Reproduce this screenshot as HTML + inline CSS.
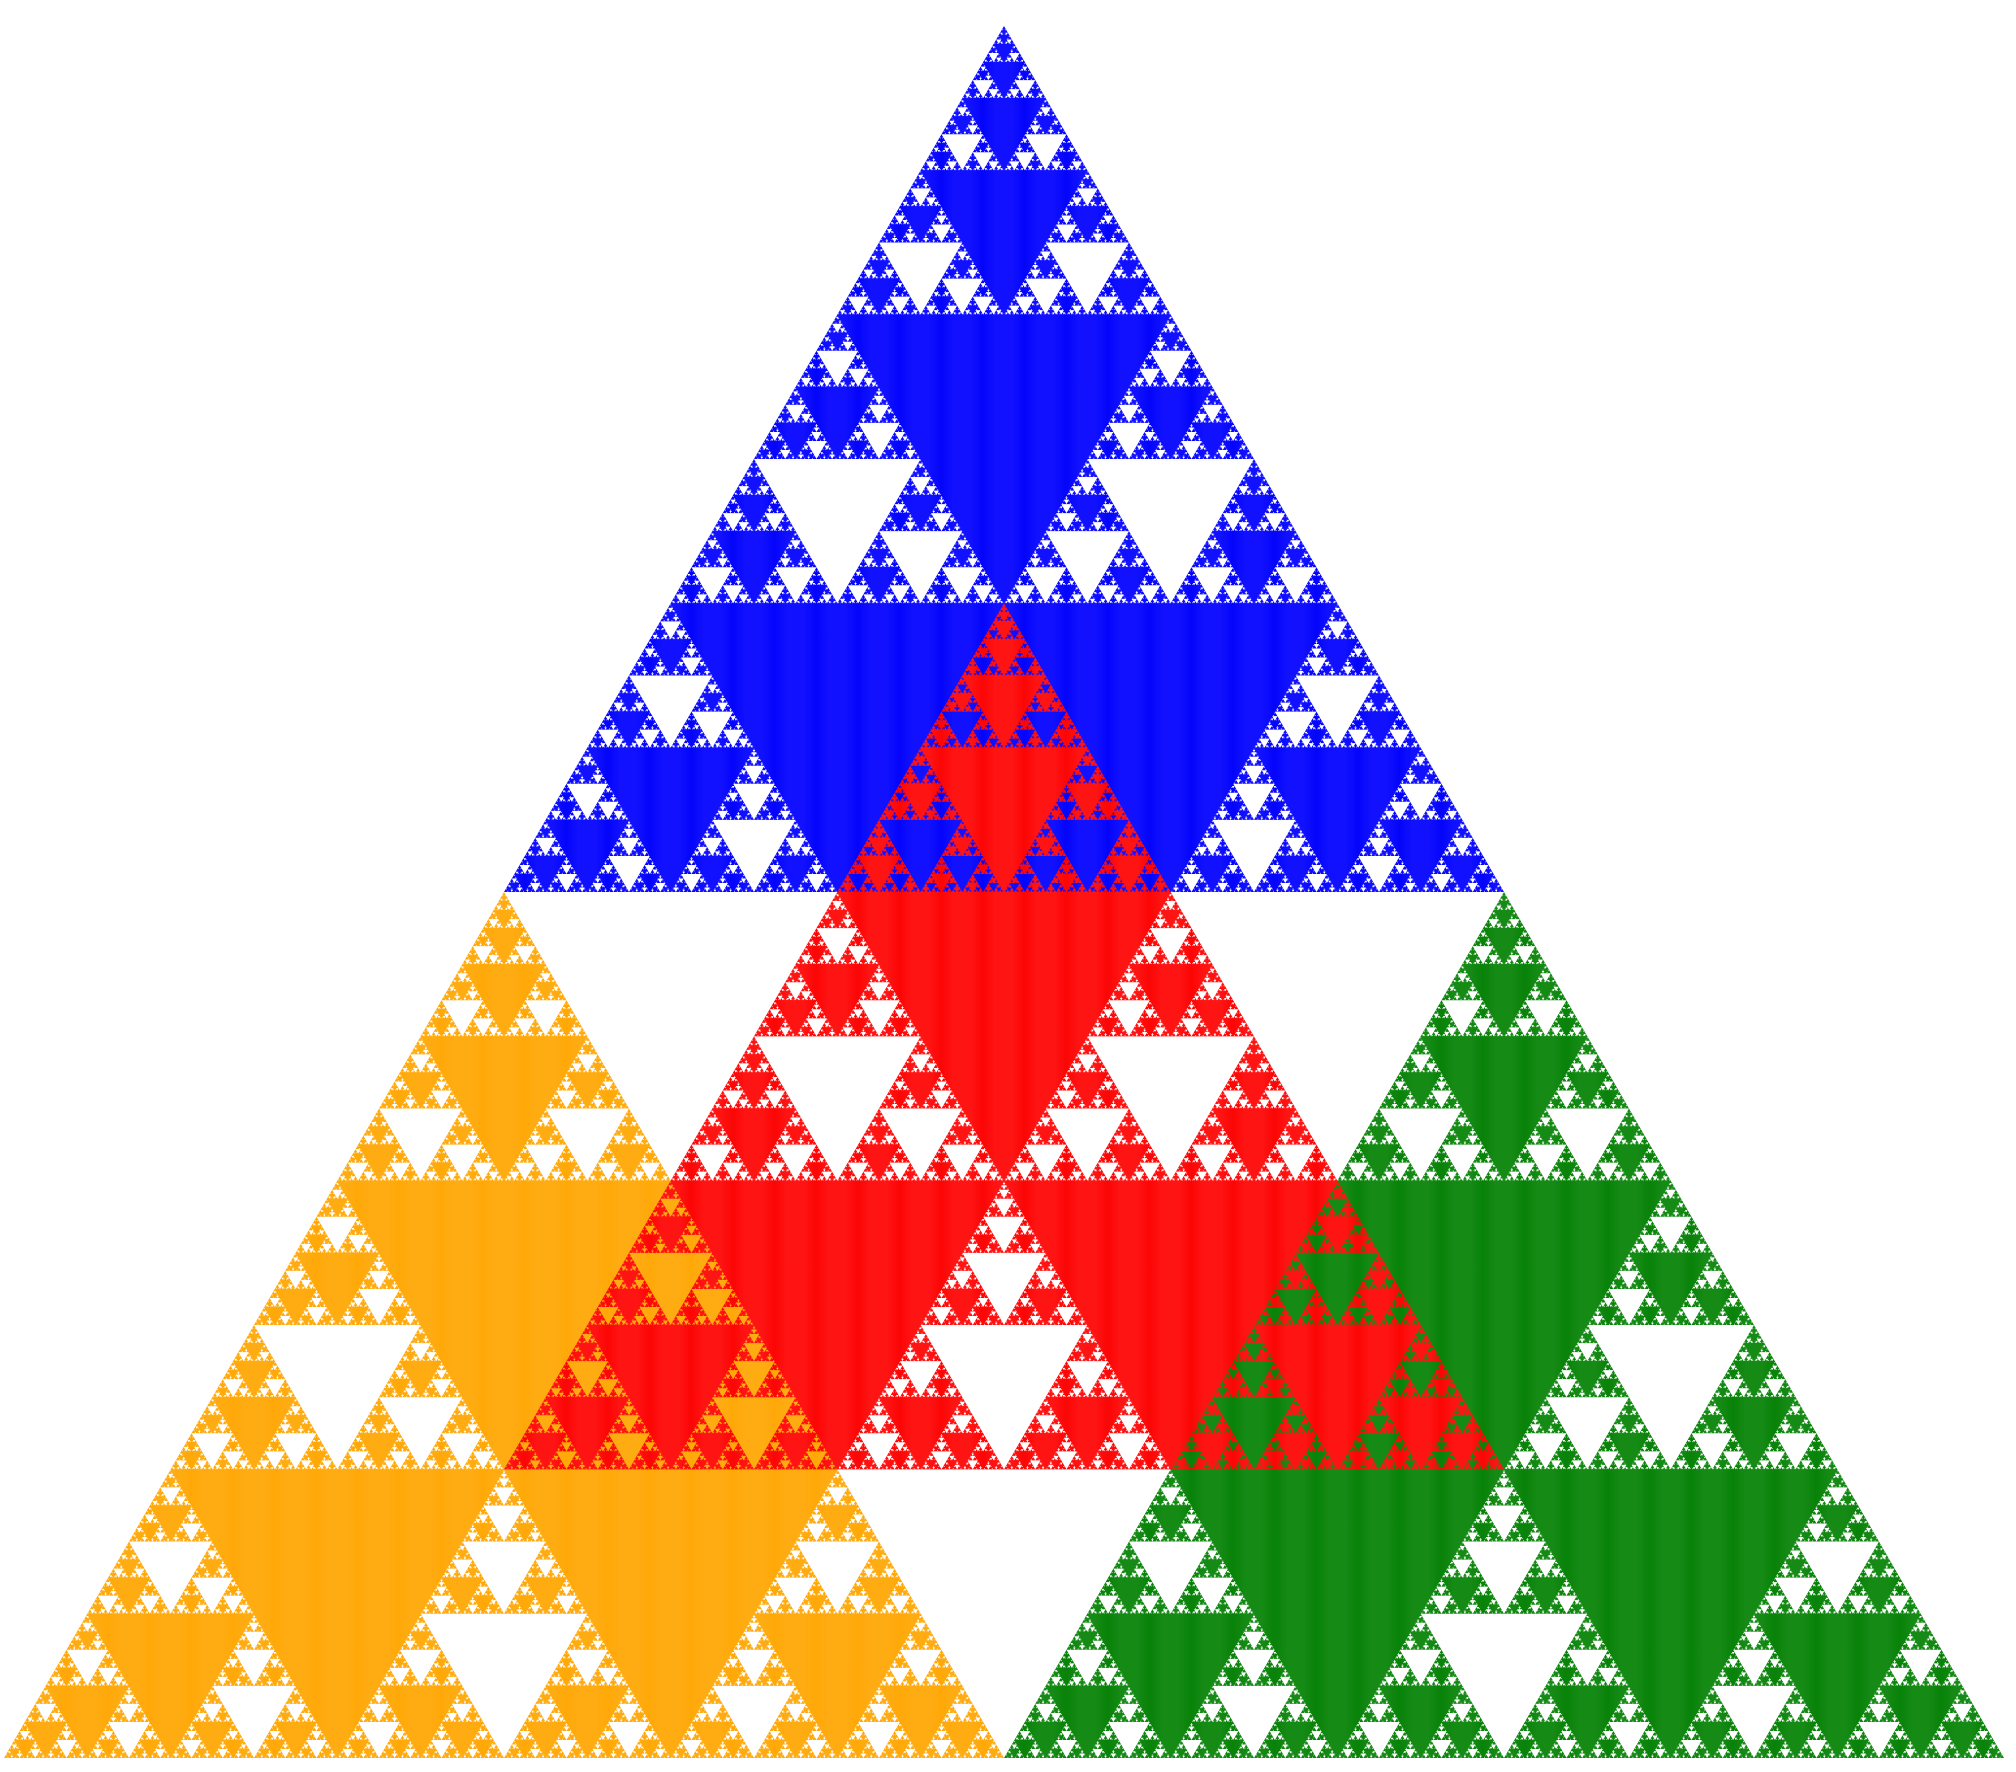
<!DOCTYPE html>
<html lang="en">
<head>
<meta charset="utf-8">
<title>Coloured Sierpinski triangle</title>
<style>
  html, body { margin: 0; padding: 0; background: #ffffff; }
  svg { display: block; }
</style>
</head>
<body>
<svg id="chart" xmlns="http://www.w3.org/2000/svg" width="2016" height="1772" viewBox="0 0 2016 1772">
  <defs>
    <linearGradient id="band-blue" gradientUnits="userSpaceOnUse" x1="24.5" y1="0" x2="66.17" y2="0" spreadMethod="repeat">
      <stop offset="0" stop-color="#0404fc"/><stop offset="0.3" stop-color="#1111ff"/><stop offset="0.7" stop-color="#1111ff"/><stop offset="1" stop-color="#0404fc"/>
    </linearGradient>
    <linearGradient id="band-orange" gradientUnits="userSpaceOnUse" x1="24.5" y1="0" x2="66.17" y2="0" spreadMethod="repeat">
      <stop offset="0" stop-color="#ffa808"/><stop offset="0.3" stop-color="#ffac13"/><stop offset="0.7" stop-color="#ffac13"/><stop offset="1" stop-color="#ffa808"/>
    </linearGradient>
    <linearGradient id="band-green" gradientUnits="userSpaceOnUse" x1="24.5" y1="0" x2="66.17" y2="0" spreadMethod="repeat">
      <stop offset="0" stop-color="#088208"/><stop offset="0.3" stop-color="#158a15"/><stop offset="0.7" stop-color="#158a15"/><stop offset="1" stop-color="#088208"/>
    </linearGradient>
    <linearGradient id="band-red" gradientUnits="userSpaceOnUse" x1="24.5" y1="0" x2="66.17" y2="0" spreadMethod="repeat">
      <stop offset="0" stop-color="#fc0505"/><stop offset="0.3" stop-color="#ff1414"/><stop offset="0.7" stop-color="#ff1414"/><stop offset="1" stop-color="#fc0505"/>
    </linearGradient>
  </defs>
  <g>
    <path id="blue-body" fill="url(#band-blue)"/>
    <path id="blue-holes" fill="#ffffff"/>
  </g>
  <g>
    <path id="orange-body" fill="url(#band-orange)"/>
    <path id="orange-holes" fill="#ffffff"/>
  </g>
  <g>
    <path id="green-body" fill="url(#band-green)"/>
    <path id="green-holes" fill="#ffffff"/>
  </g>
  <g>
    <path id="red-body" fill="url(#band-red)"/>
    <path id="red-holes-white" fill="#ffffff"/>
    <path id="red-holes-blue" fill="url(#band-blue)"/>
    <path id="red-holes-orange" fill="url(#band-orange)"/>
    <path id="red-holes-green" fill="url(#band-green)"/>
  </g>
</svg>
<script>
// Substitution grammar: each state says whether the central inverted triangle
// is filled, and which state each of the three half-size children takes.
const stateNames = ['At', 'Al', 'Ar', 'Bt', 'Br', 'Bl'];
const centerFilled = [1, 1, 1, 0, 0, 0];
const topChild = ['At', 'Br', 'Bl', 'Bt', 'Al', 'Ar'];
const leftChild = ['Br', 'Al', 'Bt', 'Ar', 'At', 'Bl'];
const rightChild = ['Bl', 'Bt', 'Ar', 'Al', 'Br', 'At'];

// Each figure is six lattice units wide; six sub-triangles of side two carry a state.
const figureNames = ['blue', 'orange', 'green', 'red'];
const figureApexRows = [0, 6, 6, 4];
const figureApexCols = [0, 0, 6, 2];
const subRows = [0, 2, 2, 4, 4, 4];
const subCols = [0, 0, 2, 0, 2, 4];
const blueStates = ['At', 'Br', 'Bl', 'Al', null, 'Ar'];
const orangeStates = ['At', 'Br', null, 'Al', 'Bt', 'Ar'];
const greenStates = ['At', null, 'Bl', 'Al', 'Bt', 'Ar'];
const redStates = ['At', 'Br', 'Bl', 'Al', 'Bt', 'Ar'];
const redHoleColours = ['blue', 'white', 'white', 'orange', 'white', 'green'];
const recursionDepth = 7;

// Axis functions: triangular lattice to pixels.
const apexX = 1004, apexY = 26, totalRows = 12, sideWidth = 2000, totalHeight = 1732.05;
function xOf(r, c) { return apexX + (c - r / 2) * (sideWidth / totalRows); }
function yOf(r) { return apexY + r * (totalHeight / totalRows); }
function tri(r1, c1, r2, c2, r3, c3) {
  return 'M' + xOf(r1, c1).toFixed(2) + ' ' + yOf(r1).toFixed(2) +
         'L' + xOf(r2, c2).toFixed(2) + ' ' + yOf(r2).toFixed(2) +
         'L' + xOf(r3, c3).toFixed(2) + ' ' + yOf(r3).toFixed(2) + 'Z';
}
function collect(r, c, size, state, depth, out) {
  const i = stateNames.indexOf(state);
  const h = size / 2;
  if (!centerFilled[i]) out.push(tri(r + h, c, r + h, c + h, r + size, c + h));
  if (depth <= 0) return;
  collect(r, c, h, topChild[i], depth - 1, out);
  collect(r + h, c, h, leftChild[i], depth - 1, out);
  collect(r + h, c + h, h, rightChild[i], depth - 1, out);
}
function drawBody(name, ar, ac) {
  document.getElementById(name + '-body').setAttribute('d', tri(ar, ac, ar + 6, ac, ar + 6, ac + 6));
}
function drawHoles(id, ar, ac, states, keep) {
  const out = [];
  for (let k = 0; k < states.length; k++) {
    if (states[k] && keep(k)) collect(ar + subRows[k], ac + subCols[k], 2, states[k], recursionDepth, out);
  }
  document.getElementById(id).setAttribute('d', out.join(''));
}
const allStates = [blueStates, orangeStates, greenStates, redStates];
figureNames.forEach(function (name, f) {
  drawBody(name, figureApexRows[f], figureApexCols[f]);
  if (name !== 'red') {
    drawHoles(name + '-holes', figureApexRows[f], figureApexCols[f], allStates[f], function () { return true; });
  } else {
    ['white', 'blue', 'orange', 'green'].forEach(function (col) {
      drawHoles('red-holes-' + col, figureApexRows[f], figureApexCols[f], allStates[f], function (k) { return redHoleColours[k] === col; });
    });
  }
});
</script>
</body>
</html>
